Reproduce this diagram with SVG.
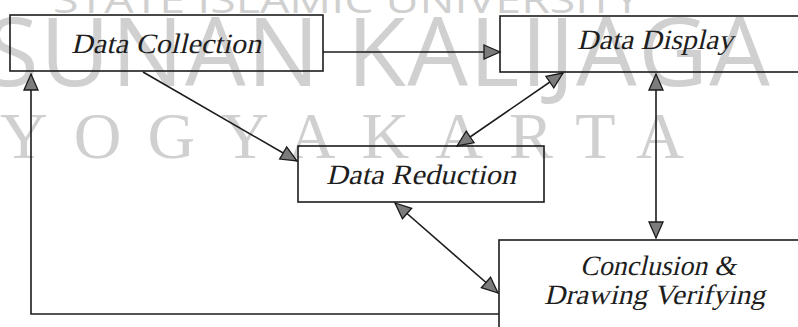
<svg xmlns="http://www.w3.org/2000/svg" width="798" height="327" viewBox="0 0 798 327">
  <style>
    .wm { fill: #d0d0d0; }
    .wm-sans { font-family: "Open Sans", "DejaVu Sans", sans-serif; }
    .wm-serif { font-family: "Liberation Serif", "Times New Roman", serif; }
    .box { fill: none; stroke: #1c1c1c; stroke-width: 1.6; }
    .lbl { font-family: "Liberation Serif", "Times New Roman", serif; font-style: normal; font-size: 28px; fill: #1e1e1e; }
    .edge { fill: none; stroke: #1c1c1c; stroke-width: 1.6; }
  </style>
  <defs>
    <marker id="ah" markerUnits="userSpaceOnUse" markerWidth="20" markerHeight="18" viewBox="0 0 20 18" refX="17" refY="9" orient="auto-start-reverse">
      <path d="M1,2 L17,9 L1,16 Z" fill="#7c7c7c" stroke="#1a1a1a" stroke-width="1.3"/>
    </marker>
  </defs>

  <rect width="798" height="327" fill="#ffffff"/>

  <!-- watermark lettering -->
  <g id="watermark">
    <text class="wm wm-sans" x="53" y="13" font-size="36" textLength="587" lengthAdjust="spacingAndGlyphs">STATE ISLAMIC UNIVERSITY</text>
    <text class="wm wm-sans" x="-14" y="86" font-size="96" textLength="784" lengthAdjust="spacing">SUNAN KALIJAGA</text>
    <text class="wm wm-serif" x="0" y="158" font-size="66" textLength="684" lengthAdjust="spacing">YOGYAKARTA</text>
  </g>

  <!-- labels are slanted upright serif so the italic look is kept -->
  <g id="node-collection">
    <rect class="box" x="10" y="15" width="313" height="56"/>
    <text class="lbl" transform="translate(71 53) skewX(-13)" textLength="190" lengthAdjust="spacingAndGlyphs">Data Collection</text>
  </g>

  <g id="node-display">
    <rect class="box" x="500" y="16" width="320" height="56"/>
    <text class="lbl" transform="translate(577 49) skewX(-13)" textLength="156" lengthAdjust="spacingAndGlyphs">Data Display</text>
  </g>

  <g id="node-reduction">
    <rect class="box" x="298" y="146" width="246" height="56"/>
    <text class="lbl" transform="translate(326 184) skewX(-13)" textLength="190" lengthAdjust="spacingAndGlyphs">Data Reduction</text>
  </g>

  <g id="node-conclusion">
    <rect class="box" x="499" y="240" width="330" height="110"/>
    <text class="lbl" transform="translate(580 275) skewX(-13)" textLength="156" lengthAdjust="spacingAndGlyphs">Conclusion &amp;</text>
    <text class="lbl" transform="translate(544 304) skewX(-13)" textLength="221" lengthAdjust="spacingAndGlyphs">Drawing Verifying</text>
  </g>

  <g id="connectors">
    <path class="edge" d="M323,52 H500" marker-end="url(#ah)"/>
    <path class="edge" d="M143,72 L297,161" marker-end="url(#ah)"/>
    <path class="edge" d="M457,146 L563,73" marker-start="url(#ah)" marker-end="url(#ah)"/>
    <path class="edge" d="M656,74 V238" marker-start="url(#ah)" marker-end="url(#ah)"/>
    <path class="edge" d="M395,203 L498,293" marker-start="url(#ah)" marker-end="url(#ah)"/>
    <path class="edge" d="M499,314 H31 V74" marker-end="url(#ah)"/>
  </g>
</svg>
